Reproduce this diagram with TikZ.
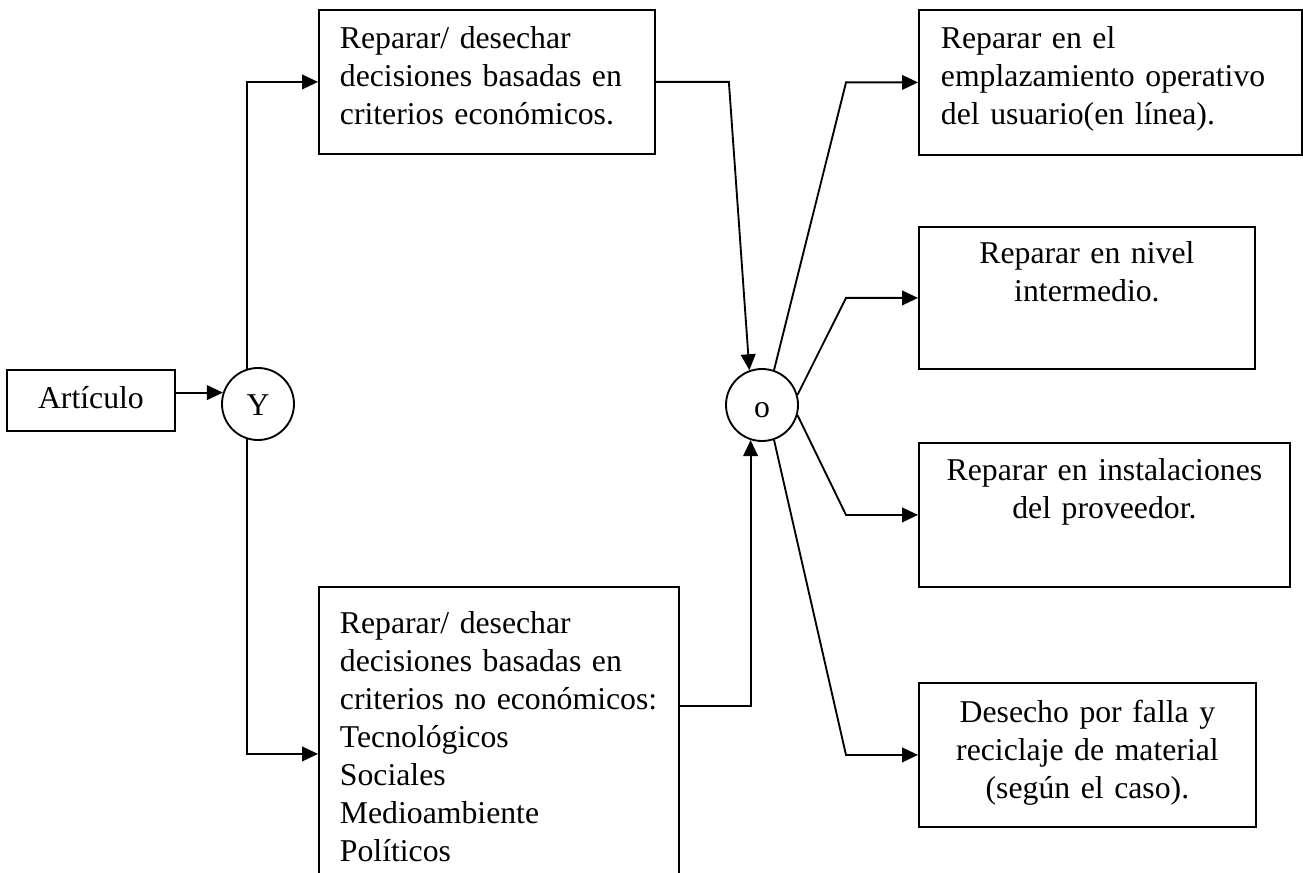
\documentclass[tikz,border=0pt]{standalone}
\usepackage{fontspec}
\setmainfont{Liberation Serif}
\usetikzlibrary{arrows.meta}

\begin{document}
\begin{tikzpicture}[x=0.75pt,y=0.75pt,yscale=-1,xscale=1,
  font=\fontsize{23.8pt}{28.4pt}\selectfont, line width=1.4pt,
  box/.style={draw, anchor=north west, inner ysep=0pt, inner xsep=15.75pt},
  gate/.style={draw, circle, minimum size=54pt, inner sep=0pt, text height=18pt, text depth=0pt},
  arr/.style={-{Triangle[length=12pt,width=11pt]}}]
%set diagram size to 1303 x 873
\clip (0,0) rectangle (1303,873);

%Shape: Rectangle [art]
\node [box, inner xsep=0pt, minimum width=126pt, text height=29.25pt, text depth=16.5pt] (art) at (6,369) {Artículo};
%Shape: Circle [Y]
\node [gate] (Y) at (258,404) {Y};
%Shape: Circle [O]
\node [gate] (O) at (762,405) {o};

%Shape: Rectangle [dec1]
\node [box, text width=220.5pt, align=left, text height=29.25pt, text depth=78.75pt] (dec1) at (318,9) {Reparar/ desechar\\decisiones basadas en\\criterios económicos.};
%Shape: Rectangle [dec2]
\node [box, text width=238.5pt, align=left, text height=35.25pt, text depth=215.25pt] (dec2) at (318,586) {Reparar/ desechar\\decisiones basadas en\\criterios no económicos:\\Tecnológicos\\Sociales\\Medioambiente\\Políticos};

%Shape: Rectangle [linea]
\node [box, inner xsep=16.5pt, text width=254.6pt, align=left, text height=29.25pt, text depth=79.5pt] (linea) at (918,9) {Reparar en el\\emplazamiento operativo\\del usuario(en línea).};
%Shape: Rectangle [nivel]
\node [box, text width=220.5pt, align=center, text height=27.75pt, text depth=78.75pt] (nivel) at (918,226) {Reparar en nivel\\intermedio.};
%Shape: Rectangle [prov]
\node [box, text width=246.75pt, align=center, text height=28.5pt, text depth=79.5pt] (prov) at (918,442) {Reparar en instalaciones\\del proveedor.};
%Shape: Rectangle [desecho]
\node [box, text width=221.25pt, align=center, text height=30pt, text depth=78pt] (desecho) at (918,682) {Desecho por falla y\\reciclaje de material\\(según el caso).};

%Straight Lines
\draw [arr] (art.east |- Y.162) -- (Y.162);
\draw [arr] (Y.108) |- (dec1.west);
\draw [arr] (Y.252) |- (dec2.west);
\draw [arr] (dec1.east) -- ++(73,0) -- (O.110);
\draw [arr] ([yshift=-36pt]dec2.east) -| (O.252);
%Straight Lines
\draw [arr] (O.71) -- ([xshift=-54pt]linea.west) -- (linea.west);
\draw [arr] (O.16) -- ([xshift=-54pt]nivel.west) -- (nivel.west);
\draw [arr] (O.-16) -- ([xshift=-54pt]prov.west) -- (prov.west);
\draw [arr] (O.-71) -- ([xshift=-54pt]desecho.west) -- (desecho.west);

\end{tikzpicture}
\end{document}
